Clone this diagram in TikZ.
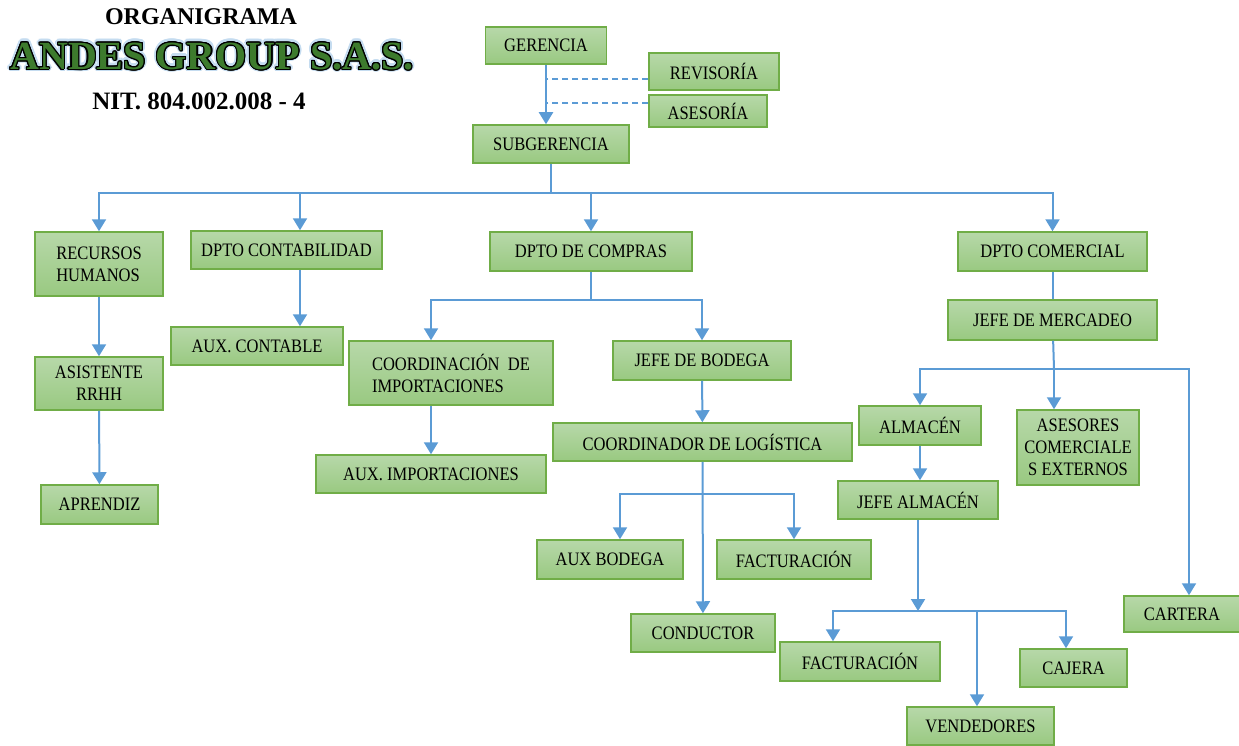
\documentclass[tikz,border=0pt]{standalone}
\usepackage{fontspec}
\setmainfont{Liberation Serif}[FakeStretch=0.87]
\newfontfamily\titlefont{Liberation Serif}
\usepackage{contour}
\usetikzlibrary{arrows.meta,positioning}
\definecolor{linkblue}{HTML}{5B9BD5}
\definecolor{boxline}{HTML}{70AD47}
\definecolor{boxtop}{HTML}{B7D8A9}
\definecolor{boxbot}{HTML}{99C981}
\definecolor{titlegreen}{HTML}{3D7B2D}
\definecolor{glowblue}{HTML}{C5DCF0}
\tikzset{
	unit/.style={rectangle,draw=boxline,line width=1.5pt,top color=boxtop,bottom color=boxbot,inner sep=0pt,font=\fontsize{19}{22}\selectfont},
	link/.style={draw=linkblue,line width=2pt},
	arrow/.style={link,-{Triangle[width=14pt,length=12pt]}},
	adviser/.style={link,dash pattern=on 6pt off 4pt},
	headline/.style={font=\titlefont\bfseries,inner sep=0pt}}

\begin{document}
\begin{tikzpicture}[x=1pt,y=-1pt]
		
		\useasboundingbox (0,0) rectangle (1239,746);
		
		% title
		\node[headline,font=\titlefont\bfseries\fontsize{24}{26}\selectfont] (org) at (201,17) {ORGANIGRAMA};
		\node[headline,font=\titlefont\bfseries\fontsize{40}{42}\selectfont] (glow) at (212,57) {\contourlength{3pt}\contour{glowblue}{ANDES GROUP S.A.S.}};
		\node[headline,font=\titlefont\bfseries\fontsize{40}{42}\selectfont] (firm) at (212,57) {\contourlength{1.1pt}\contour{black}{\color{titlegreen}ANDES GROUP S.A.S.}};
		\node[headline,font=\titlefont\bfseries\fontsize{25}{27}\selectfont] (nit) at (199,101) {NIT. 804.002.008 - 4};
		
		% top
		\node[unit,minimum width=121,minimum height=37] (ger) at (546,45.5) {GERENCIA};
		\node[unit,minimum width=130,minimum height=37] (rev) at (714,71.5) {REVISORÍA};
		\node[unit,minimum width=118,minimum height=32] (ase) at (708,111) {ASESORÍA};
		\node[unit,minimum width=156,minimum height=38] (sub) at (551,144) {SUBGERENCIA};
		
		% departments
		\node[unit,minimum width=128,minimum height=64,align=left] (rh) at (99,264) {RECURSOS\\HUMANOS};
		\node[unit,minimum width=191,minimum height=38] (cont) at (286.5,250) {DPTO CONTABILIDAD};
		\node[unit,minimum width=202,minimum height=39] (comp) at (591,251.5) {DPTO DE COMPRAS};
		\node[unit,minimum width=189,minimum height=39] (com) at (1052.5,251.5) {DPTO COMERCIAL};
		
		% human resources, accounting
		\node[unit,minimum width=128,minimum height=53,align=center] (asis) at (99,383.5) {ASISTENTE\\RRHH};
		\node[unit,minimum width=117,minimum height=39] (apr) at (99.5,504.5) {APRENDIZ};
		\node[unit,minimum width=172,minimum height=38] (auxc) at (257,346) {AUX. CONTABLE};
		
		% purchases
		\node[unit,minimum width=204,minimum height=64,align=left] (imp) at (451,373) {COORDINACIÓN~ DE\\IMPORTACIONES};
		\node[unit,minimum width=230,minimum height=38] (auxi) at (431,474) {AUX. IMPORTACIONES};
		\node[unit,minimum width=178,minimum height=39] (jbod) at (702,360.5) {JEFE DE BODEGA};
		\node[unit,minimum width=299,minimum height=38] (clog) at (702.5,442) {COORDINADOR DE LOGÍSTICA};
		\node[unit,minimum width=146,minimum height=39] (auxb) at (610,559.5) {AUX BODEGA};
		\node[unit,minimum width=154,minimum height=39] (fact) at (794,559.5) {FACTURACIÓN};
		\node[unit,minimum width=144,minimum height=38] (cond) at (703,633) {CONDUCTOR};
		
		% sales
		\node[unit,minimum width=209,minimum height=40] (jmer) at (1052.5,320) {JEFE DE MERCADEO};
		\node[unit,minimum width=122,minimum height=39] (alm) at (920,425.5) {ALMACÉN};
		\node[unit,minimum width=122,minimum height=75,align=center] (aext) at (1078,447.5) {ASESORES\\COMERCIALE\\S EXTERNOS};
		\node[unit,minimum width=160,minimum height=38] (jalm) at (918,500) {JEFE ALMACÉN};
		\node[unit,minimum width=116,minimum height=36] (cart) at (1182,614) {CARTERA};
		\node[unit,minimum width=160,minimum height=39] (fact2) at (860,661.5) {FACTURACIÓN};
		\node[unit,minimum width=147,minimum height=38] (vend) at (980.5,726) {VENDEDORES};
		\node[unit,minimum width=107,minimum height=38] (caj) at (1073.5,668) {CAJERA};
		
		% bus points
		\coordinate (b1) at (551,193);
		\coordinate (b2) at (591,300);
		\coordinate (b3) at (703,494);
		\coordinate (b4) at (1054,369);
		\coordinate (b5) at (918,611);
		\coordinate (r1) at ([yshift=-7.5pt]rev.west);
		\coordinate (a1) at ([yshift=8pt]ase.west);
		\coordinate (c1) at ([xshift=13.5pt]cont.south);
		
		\draw[adviser] (r1) -- (r1 -| ger.south);
		\draw[adviser] (a1) -- (a1 -| ger.south);
		\draw[arrow] (ger) -- (ger |- sub.north);
		
		\draw[link] (sub) -- (b1);
		\draw[arrow] (b1) -| (rh);
		\draw[arrow] (b1) -| ([xshift=13.5pt]cont.north);
		\draw[arrow] (b1) -| (comp);
		\draw[arrow] (b1) -| (com);
		
		\draw[arrow] (rh) -- (asis);
		\draw[arrow] (asis) -- (apr);
		\draw[arrow] (c1) -- (c1 |- auxc.north);
		
		\draw[link] (comp) -- (b2);
		\draw[arrow] (b2) -| ([xshift=-20pt]imp.north);
		\draw[arrow] (b2) -| (jbod);
		\draw[arrow] (imp.south -| auxi) -- (auxi);
		\draw[arrow] (jbod) -- (clog);
		\draw[arrow] (clog) -- (cond);
		\draw[arrow] (b3) -| ([xshift=10pt]auxb.north);
		\draw[arrow] (b3) -| (fact);
		
		\draw[link] (com) -- (jmer);
		\draw[link] (jmer) -- (b4);
		\draw[arrow] (b4) -| (alm);
		\draw[arrow] (b4) -- (b4 |- aext.north);
		\draw[arrow] (b4) -| ([xshift=7pt]cart.north);
		\draw[arrow] (alm) -- (alm |- jalm.north);
		\draw[arrow] (jalm) -- (b5);
		\draw[arrow] (b5) -| ([xshift=-27pt]fact2.north);
		\draw[arrow] (b5) -| ([xshift=-3.5pt]vend.north);
		\draw[arrow] (b5) -| ([xshift=-7.5pt]caj.north);
		
	\end{tikzpicture}
\end{document}
